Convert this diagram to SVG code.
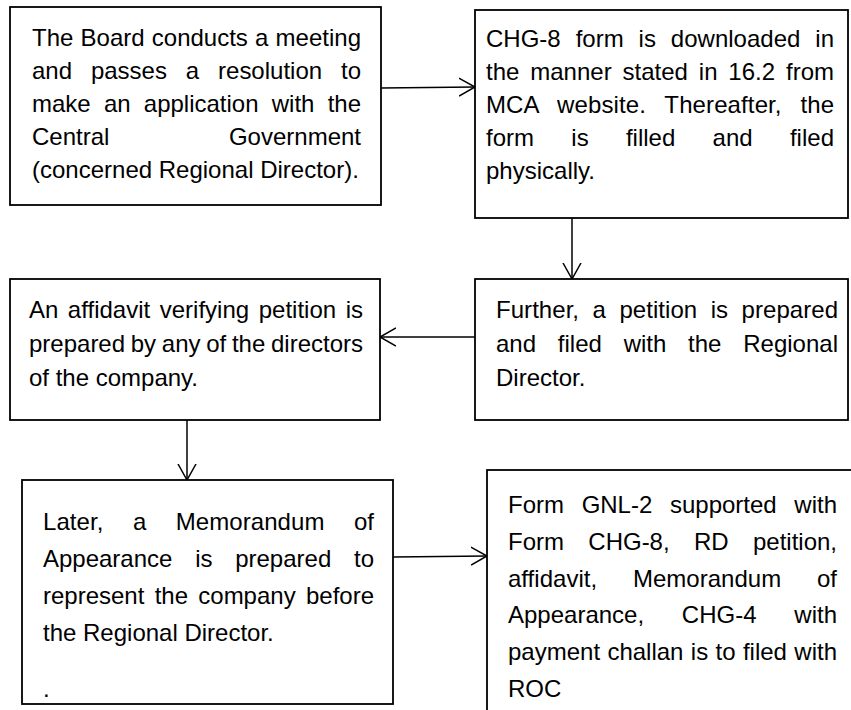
<svg xmlns="http://www.w3.org/2000/svg" width="851" height="710" viewBox="0 0 851 710">
<style>
.box{fill:#fff;stroke:#000;stroke-width:1.8}
.t{font-family:"Liberation Sans",Arial,sans-serif;font-size:24px;fill:#000}
.c{fill:none;stroke:#000;stroke-width:1.5}
</style>
<defs>
<marker id="arr" markerWidth="20" markerHeight="20" refX="16" refY="10" orient="auto" markerUnits="userSpaceOnUse">
<path d="M0,1 L16,10 L0,19" fill="none" stroke="#000" stroke-width="1.5"/>
</marker>
</defs>
<rect width="851" height="710" fill="#fff"/>
<g id="connectors">
<path class="c" d="M381,88 L475,87" marker-end="url(#arr)"/>
<path class="c" d="M572,218 L572,279" marker-end="url(#arr)"/>
<path class="c" d="M475,337 L380,337" marker-end="url(#arr)"/>
<path class="c" d="M187,420 L187,480" marker-end="url(#arr)"/>
<path class="c" d="M393,557 L487,556" marker-end="url(#arr)"/>
</g>
<g id="board-meeting">
<rect class="box" x="10" y="7" width="371" height="198"/>
<text class="t" x="32" y="46" word-spacing="0.55" textLength="329" lengthAdjust="spacing">The Board conducts a meeting</text>
<text class="t" x="32" y="79" word-spacing="12.2" textLength="329" lengthAdjust="spacing">and passes a resolution to</text>
<text class="t" x="32" y="112" word-spacing="6.55" textLength="329" lengthAdjust="spacing">make an application with the</text>
<text class="t" x="32" y="145" word-spacing="112.9" textLength="329" lengthAdjust="spacing">Central Government</text>
<text class="t" x="32" y="178">(concerned Regional Director).</text>
</g>
<g id="chg8-form">
<rect class="box" x="475" y="10" width="373" height="208"/>
<text class="t" x="486" y="47" word-spacing="8.3" textLength="348" lengthAdjust="spacing">CHG-8 form is downloaded in</text>
<text class="t" x="486" y="80" word-spacing="4.2" textLength="348" lengthAdjust="spacing">the manner stated in 16.2 from</text>
<text class="t" x="486" y="113" word-spacing="12" textLength="348" lengthAdjust="spacing">MCA website. Thereafter, the</text>
<text class="t" x="486" y="146" word-spacing="30.6" textLength="348" lengthAdjust="spacing">form is filled and filed</text>
<text class="t" x="486" y="179">physically.</text>
</g>
<g id="affidavit">
<rect class="box" x="10" y="279" width="370" height="141"/>
<text class="t" x="29" y="318" word-spacing="2.8" textLength="334" lengthAdjust="spacing">An affidavit verifying petition is</text>
<text class="t" x="29" y="352" word-spacing="-0.96" textLength="334" lengthAdjust="spacing">prepared by any of the directors</text>
<text class="t" x="29" y="386">of the company.</text>
</g>
<g id="petition">
<rect class="box" x="475" y="279" width="373" height="141"/>
<text class="t" x="496" y="318" word-spacing="6.8" textLength="342" lengthAdjust="spacing">Further, a petition is prepared</text>
<text class="t" x="496" y="352" word-spacing="15.1" textLength="342" lengthAdjust="spacing">and filed with the Regional</text>
<text class="t" x="496" y="386">Director.</text>
</g>
<g id="memorandum">
<rect class="box" x="22" y="480" width="371" height="224"/>
<text class="t" x="43" y="530" word-spacing="22.7" textLength="331" lengthAdjust="spacing">Later, a Memorandum of</text>
<text class="t" x="43" y="567" word-spacing="16.1" textLength="331" lengthAdjust="spacing">Appearance is prepared to</text>
<text class="t" x="43" y="604" word-spacing="3.6" textLength="331" lengthAdjust="spacing">represent the company before</text>
<text class="t" x="43" y="641">the Regional Director.</text>
<text class="t" x="43" y="697">.</text>
</g>
<g id="gnl2">
<rect class="box" x="487" y="470" width="400" height="300"/>
<text class="t" x="508" y="513" word-spacing="11" textLength="329" lengthAdjust="spacing">Form GNL-2 supported with</text>
<text class="t" x="508" y="550" word-spacing="17.7" textLength="329" lengthAdjust="spacing">Form CHG-8, RD petition,</text>
<text class="t" x="508" y="587" word-spacing="29.1" textLength="329" lengthAdjust="spacing">affidavit, Memorandum of</text>
<text class="t" x="508" y="623" word-spacing="31.1" textLength="329" lengthAdjust="spacing">Appearance, CHG-4 with</text>
<text class="t" x="508" y="660" word-spacing="0.7" textLength="329" lengthAdjust="spacing">payment challan is to filed with</text>
<text class="t" x="508" y="697">ROC</text>
</g>
</svg>
